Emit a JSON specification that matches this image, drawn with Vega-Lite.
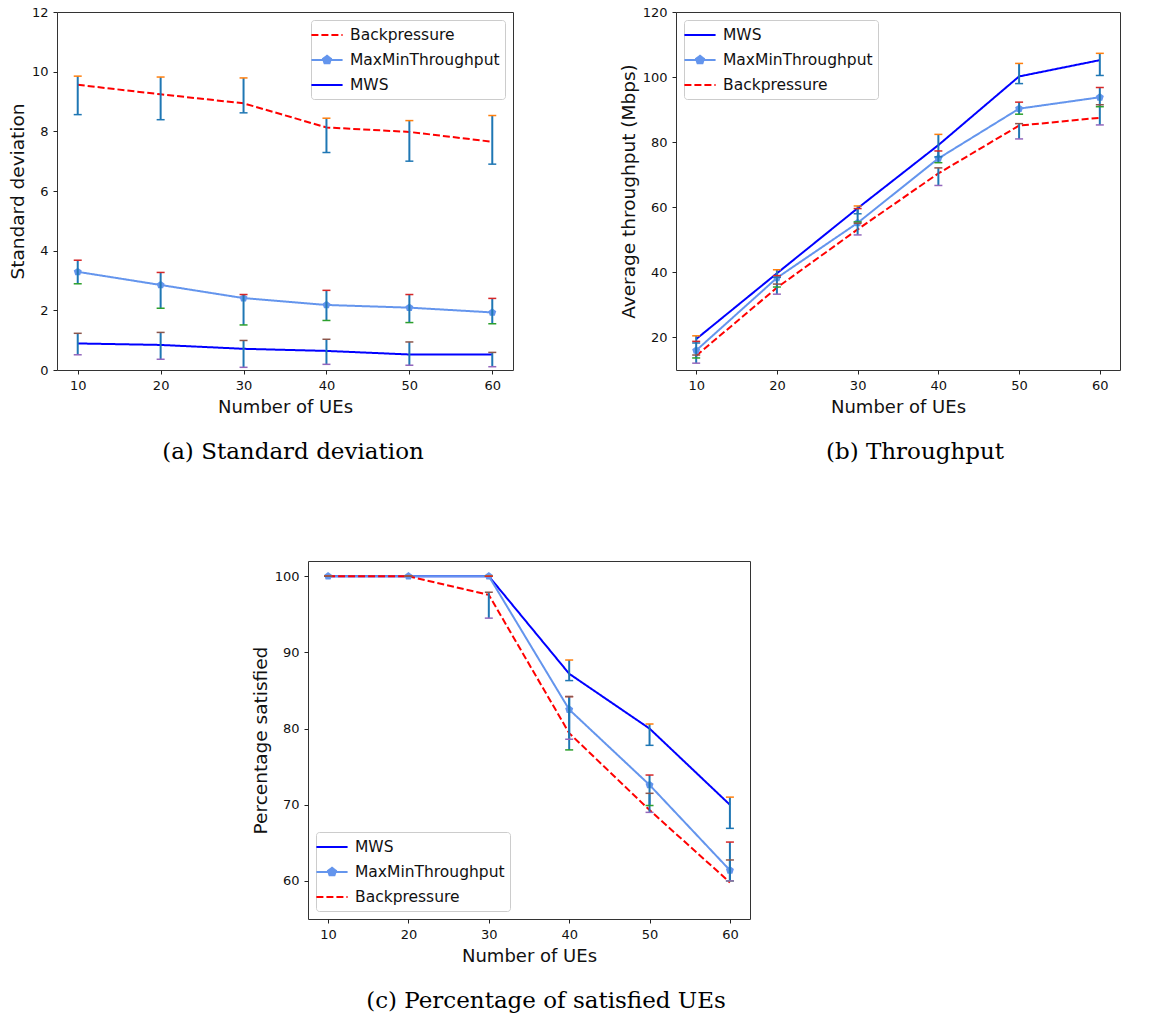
{
  "$schema": "https://vega.github.io/schema/vega-lite/v6.json",
  "background": "white",
  "padding": {"left": 7, "top": 5, "right": 5, "bottom": 5},
  "datasets": {
    "d": [
      {"panel": "a", "series": "Backpressure", "ues": 10, "mean": 9.56, "lo": 8.56, "hi": 9.85},
      {"panel": "a", "series": "Backpressure", "ues": 20, "mean": 9.24, "lo": 8.39, "hi": 9.82},
      {"panel": "a", "series": "Backpressure", "ues": 30, "mean": 8.94, "lo": 8.62, "hi": 9.79},
      {"panel": "a", "series": "Backpressure", "ues": 40, "mean": 8.13, "lo": 7.29, "hi": 8.44},
      {"panel": "a", "series": "Backpressure", "ues": 50, "mean": 7.98, "lo": 7.0, "hi": 8.36},
      {"panel": "a", "series": "Backpressure", "ues": 60, "mean": 7.65, "lo": 6.9, "hi": 8.53},
      {"panel": "a", "series": "MaxMinThroughput", "ues": 10, "mean": 3.29, "lo": 2.89, "hi": 3.68},
      {"panel": "a", "series": "MaxMinThroughput", "ues": 20, "mean": 2.85, "lo": 2.07, "hi": 3.27},
      {"panel": "a", "series": "MaxMinThroughput", "ues": 30, "mean": 2.41, "lo": 1.51, "hi": 2.53},
      {"panel": "a", "series": "MaxMinThroughput", "ues": 40, "mean": 2.18, "lo": 1.66, "hi": 2.67},
      {"panel": "a", "series": "MaxMinThroughput", "ues": 50, "mean": 2.09, "lo": 1.59, "hi": 2.53},
      {"panel": "a", "series": "MaxMinThroughput", "ues": 60, "mean": 1.93, "lo": 1.55, "hi": 2.4},
      {"panel": "a", "series": "MWS", "ues": 10, "mean": 0.89, "lo": 0.51, "hi": 1.23},
      {"panel": "a", "series": "MWS", "ues": 20, "mean": 0.84, "lo": 0.36, "hi": 1.26},
      {"panel": "a", "series": "MWS", "ues": 30, "mean": 0.71, "lo": 0.09, "hi": 0.99},
      {"panel": "a", "series": "MWS", "ues": 40, "mean": 0.64, "lo": 0.19, "hi": 1.03},
      {"panel": "a", "series": "MWS", "ues": 50, "mean": 0.52, "lo": 0.16, "hi": 0.94},
      {"panel": "a", "series": "MWS", "ues": 60, "mean": 0.52, "lo": 0.11, "hi": 0.59},

      {"panel": "b", "series": "MWS", "ues": 10, "mean": 19.5, "lo": 18.3, "hi": 20.5},
      {"panel": "b", "series": "MWS", "ues": 20, "mean": 39.7, "lo": 38.5, "hi": 40.8},
      {"panel": "b", "series": "MWS", "ues": 30, "mean": 59.7, "lo": 58.0, "hi": 60.4},
      {"panel": "b", "series": "MWS", "ues": 40, "mean": 79.1, "lo": 75.5, "hi": 82.4},
      {"panel": "b", "series": "MWS", "ues": 50, "mean": 100.2, "lo": 98.0, "hi": 104.2},
      {"panel": "b", "series": "MWS", "ues": 60, "mean": 105.2, "lo": 100.5, "hi": 107.3},
      {"panel": "b", "series": "MaxMinThroughput", "ues": 10, "mean": 16.0, "lo": 13.7, "hi": 18.8},
      {"panel": "b", "series": "MaxMinThroughput", "ues": 20, "mean": 38.3, "lo": 35.5, "hi": 39.0},
      {"panel": "b", "series": "MaxMinThroughput", "ues": 30, "mean": 55.2, "lo": 55.5, "hi": 59.6},
      {"panel": "b", "series": "MaxMinThroughput", "ues": 40, "mean": 75.0, "lo": 73.7, "hi": 77.3},
      {"panel": "b", "series": "MaxMinThroughput", "ues": 50, "mean": 90.3, "lo": 88.6, "hi": 92.3},
      {"panel": "b", "series": "MaxMinThroughput", "ues": 60, "mean": 93.8, "lo": 90.9, "hi": 96.8},
      {"panel": "b", "series": "Backpressure", "ues": 10, "mean": 14.4, "lo": 12.1, "hi": 14.6},
      {"panel": "b", "series": "Backpressure", "ues": 20, "mean": 35.3, "lo": 33.3, "hi": 36.4},
      {"panel": "b", "series": "Backpressure", "ues": 30, "mean": 53.2, "lo": 51.5, "hi": 55.1},
      {"panel": "b", "series": "Backpressure", "ues": 40, "mean": 70.4, "lo": 66.7, "hi": 72.1},
      {"panel": "b", "series": "Backpressure", "ues": 50, "mean": 85.1, "lo": 81.0, "hi": 85.7},
      {"panel": "b", "series": "Backpressure", "ues": 60, "mean": 87.5, "lo": 85.3, "hi": 91.5},

      {"panel": "c", "series": "MWS", "ues": 10, "mean": 100, "lo": 100, "hi": 100},
      {"panel": "c", "series": "MWS", "ues": 20, "mean": 100, "lo": 100, "hi": 100},
      {"panel": "c", "series": "MWS", "ues": 30, "mean": 100, "lo": 100, "hi": 100},
      {"panel": "c", "series": "MWS", "ues": 40, "mean": 87.2, "lo": 86.3, "hi": 89.0},
      {"panel": "c", "series": "MWS", "ues": 50, "mean": 80.0, "lo": 77.8, "hi": 80.6},
      {"panel": "c", "series": "MWS", "ues": 60, "mean": 70.0, "lo": 66.9, "hi": 71.0},
      {"panel": "c", "series": "MaxMinThroughput", "ues": 10, "mean": 100, "lo": 100, "hi": 100},
      {"panel": "c", "series": "MaxMinThroughput", "ues": 20, "mean": 100, "lo": 100, "hi": 100},
      {"panel": "c", "series": "MaxMinThroughput", "ues": 30, "mean": 100, "lo": 100, "hi": 100},
      {"panel": "c", "series": "MaxMinThroughput", "ues": 40, "mean": 82.5, "lo": 77.2, "hi": 84.2},
      {"panel": "c", "series": "MaxMinThroughput", "ues": 50, "mean": 72.6, "lo": 69.9, "hi": 73.9},
      {"panel": "c", "series": "MaxMinThroughput", "ues": 60, "mean": 61.4, "lo": 60.0, "hi": 65.1},
      {"panel": "c", "series": "Backpressure", "ues": 10, "mean": 100, "lo": 100, "hi": 100},
      {"panel": "c", "series": "Backpressure", "ues": 20, "mean": 100, "lo": 100, "hi": 100},
      {"panel": "c", "series": "Backpressure", "ues": 30, "mean": 97.55, "lo": 94.5, "hi": 97.9},
      {"panel": "c", "series": "Backpressure", "ues": 40, "mean": 79.4, "lo": 78.6, "hi": 84.2},
      {"panel": "c", "series": "Backpressure", "ues": 50, "mean": 69.3, "lo": 69.0, "hi": 71.5},
      {"panel": "c", "series": "Backpressure", "ues": 60, "mean": 59.8, "lo": 60.0, "hi": 62.75}
    ]
  },
  "spacing": 95,
  "vconcat": [
    {
      "hconcat": [
        {
          "width": 456, "height": 358,
          "data": {"name": "d"},
          "transform": [{"filter": "datum.panel === 'a'"}],
          "title": {"text": "(a) Standard deviation", "orient": "bottom", "frame": "group", "anchor": "middle", "dx": 8, "offset": 25, "font": "DejaVu Serif", "fontSize": 23, "fontWeight": "normal", "color": "black"},
          "encoding": {
            "x": {"field": "ues", "type": "quantitative", "scale": {"domain": [7.5, 62.5], "nice": false, "zero": false}, "axis": {"values": [10, 20, 30, 40, 50, 60], "title": "Number of UEs"}}
          },
          "layer": [
            {
              "mark": {"type": "line", "strokeWidth": 2},
              "encoding": {
                "y": {"field": "mean", "type": "quantitative", "scale": {"domain": [0, 12], "nice": false, "zero": false}, "axis": {"values": [0, 2, 4, 6, 8, 10, 12], "title": "Standard deviation"}},
                "color": {"field": "series", "type": "nominal", "scale": {"domain": ["Backpressure", "MaxMinThroughput", "MWS"], "range": ["#ff0000", "#6495ed", "#0000ff"]}, "legend": {"orient": "top-right", "title": null, "encode": {"symbols": {"update": {"shape": {"signal": "datum.value === 'MaxMinThroughput' ? 'M-1.8,0H1.8M0,-0.48L0.457,-0.148L0.282,0.388L-0.282,0.388L-0.457,-0.148Z' : 'M-1.8,0H1.8'"}, "fill": {"signal": "datum.value === 'MaxMinThroughput' ? '#6495ed' : 'transparent'"}, "strokeDash": {"signal": "datum.value === 'Backpressure' ? [7,3] : [1,0]"}}}}}},
                "strokeDash": {"field": "series", "type": "nominal", "scale": {"domain": ["Backpressure", "MaxMinThroughput", "MWS"], "range": [[7, 3], [1, 0], [1, 0]]}, "legend": null}
              }
            },
            {
              "transform": [{"filter": "datum.series === 'MaxMinThroughput'"}],
              "mark": {"type": "point", "shape": "M0,-1L0.951,-0.309L0.588,0.809L-0.588,0.809L-0.951,-0.309Z", "filled": true, "size": 70, "color": "#6495ed", "opacity": 1},
              "encoding": {"y": {"field": "mean", "type": "quantitative", "scale": {"domain": [0, 12], "nice": false, "zero": false}, "axis": {"values": [0, 2, 4, 6, 8, 10, 12], "title": "Standard deviation"}}}
            },
            {
              "mark": {"type": "rule", "color": "#1f77b4", "strokeWidth": 2},
              "encoding": {"y": {"field": "lo", "type": "quantitative", "scale": {"domain": [0, 12], "nice": false, "zero": false}, "axis": {"values": [0, 2, 4, 6, 8, 10, 12], "title": "Standard deviation"}}, "y2": {"field": "hi"}}
            },
            {
              "mark": {"type": "tick", "orient": "horizontal", "size": 8, "thickness": 1.5, "opacity": 1},
              "encoding": {
                "y": {"field": "lo", "type": "quantitative", "scale": {"domain": [0, 12], "nice": false, "zero": false}, "axis": {"values": [0, 2, 4, 6, 8, 10, 12], "title": "Standard deviation"}},
                "color": {"field": "series", "type": "nominal", "scale": {"domain": ["Backpressure", "MaxMinThroughput", "MWS"], "range": ["#1f77b4", "#2ca02c", "#9467bd"]}, "legend": null}
              }
            },
            {
              "mark": {"type": "tick", "orient": "horizontal", "size": 8, "thickness": 1.5, "opacity": 1},
              "encoding": {
                "y": {"field": "hi", "type": "quantitative", "scale": {"domain": [0, 12], "nice": false, "zero": false}, "axis": {"values": [0, 2, 4, 6, 8, 10, 12], "title": "Standard deviation"}},
                "color": {"field": "series", "type": "nominal", "scale": {"domain": ["Backpressure", "MaxMinThroughput", "MWS"], "range": ["#ff7f0e", "#d62728", "#8c564b"]}, "legend": null}
              }
            }
          ],
          "resolve": {"scale": {"color": "independent"}}
        },
        {
          "width": 444, "height": 358,
          "data": {"name": "d"},
          "transform": [{"filter": "datum.panel === 'b'"}],
          "title": {"text": "(b) Throughput", "orient": "bottom", "frame": "group", "anchor": "middle", "dx": 17, "offset": 25, "font": "DejaVu Serif", "fontSize": 23, "fontWeight": "normal", "color": "black"},
          "encoding": {
            "x": {"field": "ues", "type": "quantitative", "scale": {"domain": [7.5, 62.5], "nice": false, "zero": false}, "axis": {"values": [10, 20, 30, 40, 50, 60], "title": "Number of UEs"}}
          },
          "layer": [
            {
              "mark": {"type": "line", "strokeWidth": 2},
              "encoding": {
                "y": {"field": "mean", "type": "quantitative", "scale": {"domain": [10, 120], "nice": false, "zero": false}, "axis": {"values": [20, 40, 60, 80, 100, 120], "title": "Average throughput (Mbps)"}},
                "color": {"field": "series", "type": "nominal", "scale": {"domain": ["MWS", "MaxMinThroughput", "Backpressure"], "range": ["#0000ff", "#6495ed", "#ff0000"]}, "legend": {"orient": "top-left", "title": null, "encode": {"symbols": {"update": {"shape": {"signal": "datum.value === 'MaxMinThroughput' ? 'M-1.8,0H1.8M0,-0.48L0.457,-0.148L0.282,0.388L-0.282,0.388L-0.457,-0.148Z' : 'M-1.8,0H1.8'"}, "fill": {"signal": "datum.value === 'MaxMinThroughput' ? '#6495ed' : 'transparent'"}, "strokeDash": {"signal": "datum.value === 'Backpressure' ? [7,3] : [1,0]"}}}}}},
                "strokeDash": {"field": "series", "type": "nominal", "scale": {"domain": ["MWS", "MaxMinThroughput", "Backpressure"], "range": [[1, 0], [1, 0], [7, 3]]}, "legend": null}
              }
            },
            {
              "transform": [{"filter": "datum.series === 'MaxMinThroughput'"}],
              "mark": {"type": "point", "shape": "M0,-1L0.951,-0.309L0.588,0.809L-0.588,0.809L-0.951,-0.309Z", "filled": true, "size": 70, "color": "#6495ed", "opacity": 1},
              "encoding": {"y": {"field": "mean", "type": "quantitative", "scale": {"domain": [10, 120], "nice": false, "zero": false}, "axis": {"values": [20, 40, 60, 80, 100, 120], "title": "Average throughput (Mbps)"}}}
            },
            {
              "mark": {"type": "rule", "color": "#1f77b4", "strokeWidth": 2},
              "encoding": {"y": {"field": "lo", "type": "quantitative", "scale": {"domain": [10, 120], "nice": false, "zero": false}, "axis": {"values": [20, 40, 60, 80, 100, 120], "title": "Average throughput (Mbps)"}}, "y2": {"field": "hi"}}
            },
            {
              "mark": {"type": "tick", "orient": "horizontal", "size": 8, "thickness": 1.5, "opacity": 1},
              "encoding": {
                "y": {"field": "lo", "type": "quantitative", "scale": {"domain": [10, 120], "nice": false, "zero": false}, "axis": {"values": [20, 40, 60, 80, 100, 120], "title": "Average throughput (Mbps)"}},
                "color": {"field": "series", "type": "nominal", "scale": {"domain": ["MWS", "MaxMinThroughput", "Backpressure"], "range": ["#1f77b4", "#2ca02c", "#9467bd"]}, "legend": null}
              }
            },
            {
              "mark": {"type": "tick", "orient": "horizontal", "size": 8, "thickness": 1.5, "opacity": 1},
              "encoding": {
                "y": {"field": "hi", "type": "quantitative", "scale": {"domain": [10, 120], "nice": false, "zero": false}, "axis": {"values": [20, 40, 60, 80, 100, 120], "title": "Average throughput (Mbps)"}},
                "color": {"field": "series", "type": "nominal", "scale": {"domain": ["MWS", "MaxMinThroughput", "Backpressure"], "range": ["#ff7f0e", "#d62728", "#8c564b"]}, "legend": null}
              }
            }
          ],
          "resolve": {"scale": {"color": "independent"}}
        }
      ],
      "spacing": 163,
      "bounds": "flush"
    },
    {
      "hconcat": [
        {
          "width": 251, "height": 358,
          "data": {"values": []},
          "mark": "point",
          "view": {"stroke": null}
        },
        {
          "width": 442, "height": 358,
          "data": {"name": "d"},
          "transform": [{"filter": "datum.panel === 'c'"}],
          "title": {"text": "(c) Percentage of satisfied UEs", "orient": "bottom", "frame": "group", "anchor": "middle", "dx": 17, "offset": 25, "font": "DejaVu Serif", "fontSize": 23, "fontWeight": "normal", "color": "black"},
          "encoding": {
            "x": {"field": "ues", "type": "quantitative", "scale": {"domain": [7.5, 62.5], "nice": false, "zero": false}, "axis": {"values": [10, 20, 30, 40, 50, 60], "title": "Number of UEs"}}
          },
          "layer": [
            {
              "mark": {"type": "line", "strokeWidth": 2},
              "encoding": {
                "y": {"field": "mean", "type": "quantitative", "scale": {"domain": [55, 102], "nice": false, "zero": false}, "axis": {"values": [60, 70, 80, 90, 100], "title": "Percentage satisfied"}},
                "color": {"field": "series", "type": "nominal", "scale": {"domain": ["MWS", "MaxMinThroughput", "Backpressure"], "range": ["#0000ff", "#6495ed", "#ff0000"]}, "legend": {"orient": "bottom-left", "title": null, "encode": {"symbols": {"update": {"shape": {"signal": "datum.value === 'MaxMinThroughput' ? 'M-1.8,0H1.8M0,-0.48L0.457,-0.148L0.282,0.388L-0.282,0.388L-0.457,-0.148Z' : 'M-1.8,0H1.8'"}, "fill": {"signal": "datum.value === 'MaxMinThroughput' ? '#6495ed' : 'transparent'"}, "strokeDash": {"signal": "datum.value === 'Backpressure' ? [7,3] : [1,0]"}}}}}},
                "strokeDash": {"field": "series", "type": "nominal", "scale": {"domain": ["MWS", "MaxMinThroughput", "Backpressure"], "range": [[1, 0], [1, 0], [7, 3]]}, "legend": null}
              }
            },
            {
              "transform": [{"filter": "datum.series === 'MaxMinThroughput'"}],
              "mark": {"type": "point", "shape": "M0,-1L0.951,-0.309L0.588,0.809L-0.588,0.809L-0.951,-0.309Z", "filled": true, "size": 70, "color": "#6495ed", "opacity": 1},
              "encoding": {"y": {"field": "mean", "type": "quantitative", "scale": {"domain": [55, 102], "nice": false, "zero": false}, "axis": {"values": [60, 70, 80, 90, 100], "title": "Percentage satisfied"}}}
            },
            {
              "mark": {"type": "rule", "color": "#1f77b4", "strokeWidth": 2},
              "encoding": {"y": {"field": "lo", "type": "quantitative", "scale": {"domain": [55, 102], "nice": false, "zero": false}, "axis": {"values": [60, 70, 80, 90, 100], "title": "Percentage satisfied"}}, "y2": {"field": "hi"}}
            },
            {
              "mark": {"type": "tick", "orient": "horizontal", "size": 8, "thickness": 1.5, "opacity": 1},
              "encoding": {
                "y": {"field": "lo", "type": "quantitative", "scale": {"domain": [55, 102], "nice": false, "zero": false}, "axis": {"values": [60, 70, 80, 90, 100], "title": "Percentage satisfied"}},
                "color": {"field": "series", "type": "nominal", "scale": {"domain": ["MWS", "MaxMinThroughput", "Backpressure"], "range": ["#1f77b4", "#2ca02c", "#9467bd"]}, "legend": null}
              }
            },
            {
              "mark": {"type": "tick", "orient": "horizontal", "size": 8, "thickness": 1.5, "opacity": 1},
              "encoding": {
                "y": {"field": "hi", "type": "quantitative", "scale": {"domain": [55, 102], "nice": false, "zero": false}, "axis": {"values": [60, 70, 80, 90, 100], "title": "Percentage satisfied"}},
                "color": {"field": "series", "type": "nominal", "scale": {"domain": ["MWS", "MaxMinThroughput", "Backpressure"], "range": ["#ff7f0e", "#d62728", "#8c564b"]}, "legend": null}
              }
            }
          ],
          "resolve": {"scale": {"color": "independent"}}
        }
      ],
      "spacing": 0,
      "bounds": "flush"
    }
  ],
  "config": {
    "font": "DejaVu Sans",
    "view": {"stroke": "#333333", "strokeWidth": 1},
    "axis": {
      "domain": false, "grid": false, "ticks": true, "tickSize": 4, "tickColor": "#222222", "tickWidth": 1,
      "labelFont": "DejaVu Sans", "labelFontSize": 13, "labelColor": "#111111", "labelPadding": 5,
      "labelFlush": false, "labelOverlap": false,
      "titleFont": "DejaVu Sans", "titleFontSize": 18, "titleFontWeight": "normal", "titleColor": "#111111"
    },
    "axisX": {"titlePadding": 6},
    "axisY": {"titlePadding": 4, "labelPadding": 5, "titleFontSize": 18.5},
    "legend": {
      "labelFont": "DejaVu Sans", "labelFontSize": 15.5, "labelColor": "#111111",
      "symbolType": "M-1.8,0H1.8", "symbolStrokeWidth": 2, "symbolSize": 300, "symbolOffset": 1,
      "strokeColor": "#cccccc", "fillColor": "white", "cornerRadius": 3,
      "padding": 5, "rowPadding": 6, "labelOffset": 13, "offset": 8
    }
  }
}
